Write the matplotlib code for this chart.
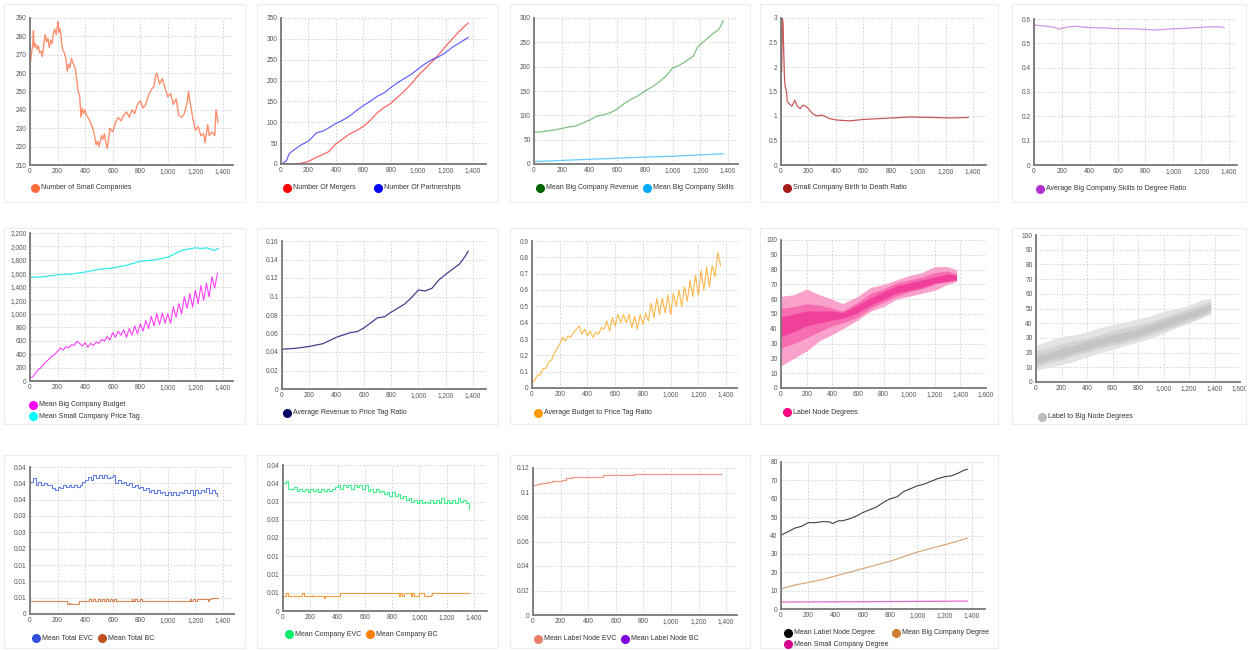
import numpy as np
import matplotlib
matplotlib.use("Agg")
import matplotlib.pyplot as plt
from matplotlib.lines import Line2D
from matplotlib.patches import Rectangle

W, H = 1249, 650
plt.rcParams["font.family"] = ["Liberation Sans", "DejaVu Sans"]

## Data
# Number of Small Companies
small_x = [0, 10, 20, 25, 30, 40, 50, 60, 70, 80, 90, 100, 110, 120, 130, 140, 150, 160, 170, 180,
           190, 200, 205, 210, 220, 230, 240, 250, 260, 270, 280, 290, 300, 310, 320, 330, 340, 350, 360, 370,
           380, 390, 400, 410, 420, 440, 460, 480, 490, 500, 520, 530, 540, 550, 560, 570, 580, 600, 620, 640,
           660, 680, 700, 720, 740, 760, 780, 800, 820, 840, 860, 880, 900, 910, 920, 940, 960, 980, 1000, 1020,
           1040, 1060, 1080, 1100, 1120, 1140, 1150, 1160, 1180, 1200, 1220, 1240, 1260, 1270, 1290, 1300, 1320, 1340, 1350, 1365]
small_y = [264, 270, 276, 283, 274, 276, 273, 275, 271, 272, 269, 276, 281, 277, 279, 274, 278, 276, 282, 284,
           281, 286, 288, 282, 284, 276, 272, 271, 268, 261, 265, 263, 268, 266, 264, 262, 256, 250, 248, 236,
           241, 238, 240, 237, 236, 233, 229, 221, 223, 220, 226, 224, 227, 222, 219, 224, 230, 228, 233, 236,
           234, 237, 239, 236, 240, 238, 243, 245, 241, 243, 248, 251, 253, 258, 260, 254, 257, 252, 247, 249,
           243, 246, 237, 236, 238, 244, 250, 245, 236, 229, 231, 226, 227, 222, 232, 226, 228, 226, 240, 233]

# Mergers / partnerships
mergers_x = [0, 100, 150, 200, 250, 300, 350, 400, 450, 500, 550, 600, 650, 700, 750, 800, 850, 900, 950, 1000,
             1050, 1100, 1150, 1200, 1250, 1300, 1365]
mergers_y = [0, 0, 2, 6, 15, 22, 30, 48, 60, 72, 80, 90, 104, 122, 135, 145, 160, 175, 192, 212,
             228, 245, 262, 282, 300, 318, 338]
partner_x = [0, 20, 40, 60, 100, 130, 160, 200, 230, 260, 300, 350, 400, 450, 500, 550, 600, 650, 700, 750,
             800, 850, 900, 950, 1000, 1050, 1100, 1150, 1200, 1250, 1300, 1365]
partner_y = [0, 3, 8, 25, 35, 42, 48, 55, 65, 75, 78, 87, 97, 105, 115, 128, 140, 150, 162, 170,
             183, 195, 205, 215, 228, 240, 250, 257, 267, 280, 290, 303]

# Big company revenue / skills
revenue_x = [0, 50, 100, 150, 200, 250, 300, 350, 400, 450, 500, 550, 600, 650, 700, 750, 800, 850, 900, 950,
             1000, 1050, 1100, 1150, 1180, 1200, 1250, 1300, 1330, 1350, 1365]
revenue_y = [65, 66, 68, 70, 73, 76, 78, 84, 90, 98, 101, 105, 113, 124, 133, 140, 150, 158, 168, 180,
             197, 203, 212, 222, 240, 246, 258, 270, 275, 285, 295]
skills_x = [0, 300, 700, 1000, 1365]
skills_y = [5, 8.5, 13, 16, 21]

# Small company birth to death ratio
ratio_x = [5, 10, 15, 20, 25, 30, 40, 45, 60, 80, 100, 120, 140, 160, 180, 200, 230, 260, 300, 350,
           400, 500, 600, 800, 950, 1100, 1250, 1365]
ratio_y = [1.9, 3.0, 2.9, 2.3, 1.8, 1.6, 1.5, 1.3, 1.25, 1.2, 1.32, 1.2, 1.15, 1.22, 1.2, 1.15, 1.05, 1.0, 1.02, 0.95,
           0.92, 0.9, 0.93, 0.96, 0.98, 0.97, 0.96, 0.97]

# Average big company skills to degree ratio
skdeg_x = [0, 3, 10, 50, 100, 150, 180, 200, 250, 300, 350, 400, 500, 600, 700, 800, 850, 900, 1000, 1100,
           1200, 1300, 1365]
skdeg_y = [0, 0.58, 0.575, 0.572, 0.57, 0.565, 0.558, 0.562, 0.568, 0.57, 0.567, 0.565, 0.563, 0.56, 0.56, 0.557,
           0.555, 0.556, 0.56, 0.562, 0.566, 0.568, 0.566]

# sampling grid (every 20 steps) used for the jagged series below
grid_x = list(range(0, 1361, 20))

budget_y = [50, 60, 120, 170, 200, 250, 290, 330, 370, 400,
            440, 490, 460, 510, 490, 540, 530, 590, 560, 520,
            570, 500, 560, 530, 580, 560, 620, 590, 660, 610,
            720, 650, 740, 680, 760, 650, 780, 680, 820, 700,
            850, 740, 900, 780, 960, 820, 1000, 840, 1010, 860,
            1000, 860, 1100, 950, 1150, 1000, 1250, 1080, 1300, 1100,
            1350, 1150, 1420, 1200, 1450, 1250, 1550, 1380, 1600]
pricetag_x = [0, 100, 200, 300, 400, 500, 600, 700, 800, 900, 1000, 1100, 1200, 1250, 1280, 1340, 1365]
pricetag_y = [1540, 1550, 1580, 1590, 1620, 1660, 1680, 1720, 1780, 1800, 1840, 1940, 1980, 1970, 1980, 1940, 1970]

# Average revenue to price tag ratio
revtag_x = [0, 2, 100, 200, 300, 400, 500, 550, 600, 700, 750, 800, 900, 950, 1000, 1050, 1100, 1150, 1200, 1300,
            1340, 1365]
revtag_y = [0, 0.043, 0.044, 0.046, 0.049, 0.056, 0.061, 0.062, 0.066, 0.077, 0.078, 0.083, 0.092, 0.099, 0.107,
            0.106, 0.109, 0.118, 0.124, 0.135, 0.143, 0.149]

# Average budget to price tag ratio
budtag_y = [0.03, 0.05, 0.08, 0.08, 0.12, 0.12, 0.16, 0.17, 0.21, 0.24,
            0.27, 0.31, 0.29, 0.32, 0.31, 0.34, 0.36, 0.38, 0.33, 0.36,
            0.32, 0.35, 0.31, 0.34, 0.33, 0.37, 0.36, 0.41, 0.35, 0.43,
            0.38, 0.45, 0.40, 0.45, 0.40, 0.45, 0.37, 0.44, 0.36, 0.45,
            0.39, 0.46, 0.41, 0.52, 0.43, 0.55, 0.45, 0.55, 0.46, 0.57,
            0.45, 0.58, 0.50, 0.60, 0.50, 0.62, 0.53, 0.66, 0.56, 0.69,
            0.57, 0.72, 0.60, 0.74, 0.62, 0.75, 0.68, 0.83, 0.75]

# Label node degrees (fan bands)
band_x = [0, 100, 200, 300, 400, 480, 600, 700, 800, 900, 1000, 1100, 1200, 1300, 1370]
lnd_outer_lo = [15, 20, 25, 32, 36, 40, 46, 52, 55, 60, 62, 64, 66, 70, 72]
lnd_outer_hi = [62, 63, 67, 63, 60, 57, 62, 68, 70, 73, 76, 78, 82, 82, 80]
lnd_mid_lo = [27, 30, 34, 38, 42, 44, 48, 54, 58, 62, 65, 67, 70, 72, 73]
lnd_mid_hi = [54, 55, 57, 56, 54, 52, 58, 64, 67, 71, 73, 75, 78, 79, 77]
lnd_in_lo = [35, 38, 42, 44, 46, 47, 51, 56, 60, 64, 66, 68, 71, 72, 73]
lnd_in_hi = [48, 50, 52, 52, 52, 51, 56, 61, 65, 69, 71, 73, 75, 77, 76]

# Label to big node degrees (fan bands)
band2_x = [0, 100, 200, 300, 400, 500, 600, 700, 800, 900, 1000, 1100, 1200, 1300, 1370]
lbd_outer_lo = [8, 10, 12, 14, 17, 20, 22, 25, 27, 30, 33, 37, 40, 44, 46]
lbd_outer_hi = [25, 28, 31, 32, 34, 37, 39, 41, 43, 45, 48, 50, 52, 56, 57]
lbd_mid_lo = [10, 13, 15, 18, 20, 23, 25, 27, 29, 32, 35, 38, 41, 44, 47]
lbd_mid_hi = [21, 23, 26, 28, 30, 32, 35, 37, 39, 41, 44, 47, 50, 53, 55]
lbd_in_lo = [12, 15, 17, 20, 22, 25, 27, 29, 31, 34, 37, 40, 43, 46, 49]
lbd_in_hi = [18, 20, 23, 25, 28, 30, 32, 34, 36, 39, 42, 45, 48, 51, 53]

# Mean total EVC / BC (in thousandths)
total_evc_e3 = [40.5, 41.5, 39.5, 40.5, 39.5, 40, 39.5, 39.5, 38.5, 38,
                39, 38.5, 39.5, 39, 39.5, 39, 39.5, 39, 39.5, 40.5,
                41, 42, 41, 42.5, 41.5, 42.5, 41.5, 42.5, 41.5, 42,
                42.5, 40, 41, 40, 40.5, 39.5, 40, 39, 39.5, 38.5,
                39, 38, 38.5, 37.5, 38, 37, 38, 37, 37.5, 36.5,
                37.5, 36.5, 37.5, 36.5, 37.5, 37, 38, 37, 38, 36.5,
                38, 37, 38, 37.5, 38.5, 37, 38, 37, 36]
total_bc_x = [0, 265, 280, 290, 355, 430, 445, 460, 475, 490, 505, 520, 535, 550, 565, 580, 595, 610, 625, 640,
              740, 750, 760, 775, 800, 815, 1160, 1170, 1185, 1200, 1215, 1230, 1290, 1300, 1310, 1365]
total_bc_e3 = [4, 3, 3.5, 3, 4, 4.5, 4, 4.5, 4, 4.5, 4, 4.5, 4, 4.5, 4, 4.5, 4, 4.5, 4, 4,
               4.5, 4, 4.5, 4, 4.5, 4, 4.5, 4, 4.5, 4, 4.5, 4.5, 4, 4.5, 5, 5]

# Mean company EVC / BC (in thousandths)
comp_evc_e3 = [35, 35.5, 33.5, 33.5, 34, 33, 33.5, 33, 33.5, 32.5,
               33.5, 33, 33.5, 32.5, 33.5, 33, 33.5, 33, 33.5, 34,
               34.5, 33.5, 34.5, 34, 34.5, 33.5, 34.5, 34, 34.5, 33.5,
               34.5, 33, 33.5, 32.5, 33.5, 32.5, 33, 32, 32.5, 31.5,
               32.5, 31.5, 32, 31, 31.5, 30.5, 31, 30, 30.5, 29.5,
               30.5, 29.5, 30, 29.5, 30.5, 29.5, 30.5, 29.5, 31, 29.5,
               30.5, 29.5, 30.5, 29.5, 31, 30, 30.5, 29.5, 28]
comp_bc_x = [0, 20, 35, 140, 155, 210, 215, 300, 310, 420, 850, 860, 875, 885, 935, 945, 960, 1000, 1010, 1030,
             1085, 1095, 1110, 1365]
comp_bc_e3 = [4, 5, 4, 5, 4, 4.5, 4, 3.5, 4, 5, 4, 5, 4, 5, 4, 5, 4, 5, 5, 4,
              4.5, 5, 5, 5]

# Mean label node EVC (in thousandths)
label_evc_x = [0, 30, 60, 100, 140, 180, 210, 240, 280, 500, 510, 720, 730, 1365]
label_evc_e3 = [106, 107, 108, 108.5, 109, 109.5, 110.5, 111.5, 113, 113, 114, 114, 115, 115]

# Mean degrees
lab_deg_x = [0, 20, 50, 100, 150, 200, 250, 300, 350, 380, 420, 450, 500, 550, 600, 650, 700, 750, 800, 850,
             900, 950, 1000, 1050, 1100, 1150, 1200, 1250, 1300, 1340, 1365]
lab_deg_y = [40, 41, 42, 44, 45, 47, 47, 47.5, 47.5, 46.5, 48, 48, 49, 50.5, 52.5, 54, 55.5, 58, 60, 61,
             64, 65.5, 67, 68, 69.5, 71, 72, 72.5, 74, 75.5, 76]
big_deg_x = [0, 100, 200, 300, 400, 500, 600, 700, 800, 900, 1000, 1100, 1200, 1300, 1365]
big_deg_y = [11, 13, 14.5, 16, 18, 20, 22, 24, 26, 28.5, 31, 33, 35, 37, 38.5]
small_deg_x = [0, 700, 1365]
small_deg_y = [3.8, 4.0, 4.3]

x_ticks = [0, 200, 400, 600, 800, 1000, 1200, 1400]
x_ticks16 = x_ticks + [1600]


def fmt(v):
    if abs(v - round(v)) < 1e-9:
        return f"{int(round(v)):,}"
    return f"{v:.2f}".rstrip("0")


fig = plt.figure(figsize=(W / 100, H / 100), dpi=100)
fig.patch.set_facecolor("white")

# faint card borders
cols = [(4, 245), (257, 498), (510, 750), (760, 998), (1012, 1246)]
rows = [(4, 202), (228, 424), (455, 648)]
for r, (ya, yb) in enumerate(rows):
    for c, (xa, xb) in enumerate(cols):
        if r == 2 and c == 4:
            continue
        fig.add_artist(Rectangle((xa / W, 1 - yb / H), (xb - xa) / W, (yb - ya) / H,
                                 transform=fig.transFigure, fill=False, ec="#ededed", lw=0.8))


def panel(x0, x1, y0, y1, xmax, yticks, ylabels=None, xt=x_ticks):
    ax = fig.add_axes([x0 / W, 1 - y1 / H, (x1 - x0) / W, (y1 - y0) / H])
    ax.set_xlim(0, xmax)
    ax.set_ylim(yticks[0], yticks[-1])
    ax.set_xticks(xt)
    ax.set_xticklabels([f"{t:,}" for t in xt])
    ax.set_yticks(yticks)
    ax.set_yticklabels(ylabels if ylabels else [fmt(t) for t in yticks])
    for s in ["top", "right"]:
        ax.spines[s].set_visible(False)
    for s in ["left", "bottom"]:
        ax.spines[s].set_color("#777777")
        ax.spines[s].set_linewidth(1.3)
    ax.tick_params(length=0, labelsize=4.7, colors="#555555", pad=2.5)
    ax.grid(True, ls=(0, (2, 2)), color="#cfcfcf", lw=0.6)
    ax.set_axisbelow(True)
    ax.patch.set_alpha(0)
    return ax


def legend_item(x, y, color, text):
    fig.add_artist(Line2D([x / W], [1 - y / H], marker="o", ms=5.5, color=color, ls="",
                          transform=fig.transFigure))
    fig.text((x + 6) / W, 1 - y / H, text, fontsize=5.0, color="#333333", va="center")


def steps(lo, hi, n):
    return [lo + (hi - lo) * i / n for i in range(n + 1)]


# ---- Row 1 ----
ax = panel(30, 233, 18, 165, 1473, steps(210, 290, 8))
ax.plot(small_x, small_y, color="#ff6a3d", lw=1.0, alpha=0.75)
legend_item(35, 188, "#ff6a3d", "Number of Small Companies")

ax = panel(281, 486, 18, 164, 1495, steps(0, 350, 7))
ax.plot(mergers_x, mergers_y, color="#ff0000", lw=0.9, alpha=0.6)
ax.plot(partner_x, partner_y, color="#0000ff", lw=0.9, alpha=0.6)
legend_item(287, 188, "#ff0000", "Number Of Mergers")
legend_item(378, 188, "#0000ff", "Number Of Partnershpis")

ax = panel(534, 738, 18, 164, 1472, steps(0, 300, 6))
ax.plot(revenue_x, revenue_y, color="#1a8c1a", lw=0.9, alpha=0.55)
ax.plot(skills_x, skills_y, color="#00aaff", lw=0.9, alpha=0.6)
legend_item(540, 188, "#006400", "Mean Big Company Revenue")
legend_item(647, 188, "#00aaff", "Mean Big Company Skills")

ax = panel(781, 986, 18, 165, 1495, steps(0, 3, 6))
ax.plot(ratio_x, ratio_y, color="#b22222", lw=0.9, alpha=0.75)
legend_item(787, 188, "#a51c1c", "Small Company Birth to Death Ratio")

ax = panel(1034, 1237, 19, 165, 1457, steps(0, 0.6, 6))
ax.plot(skdeg_x, skdeg_y, color="#b040d0", lw=0.9, alpha=0.55)
legend_item(1040, 189, "#b030d0", "Average Big Company Skills to Degree Ratio")

# ---- Row 2 ----
ax = panel(30, 233, 233, 381, 1473, steps(0, 2200, 11))
ax.plot(grid_x, budget_y, color="#ff00ff", lw=0.8, alpha=0.75)
ax.plot(pricetag_x, pricetag_y, color="#00e5e5", lw=0.9, alpha=0.8)
legend_item(33, 405, "#ff00ff", "Mean Big Company Budget")
legend_item(33, 416, "#00ffff", "Mean Small Company Price Tag")

ax = panel(282, 486, 241, 389, 1495, steps(0, 0.16, 8))
ax.plot(revtag_x, revtag_y, color="#000066", lw=0.9, alpha=0.75)
legend_item(287, 413, "#000066", "Average Revenue to Price Tag Ratio")

ax = panel(532, 737, 241, 388, 1479, steps(0, 0.9, 9))
ax.plot(grid_x, budtag_y, color="#ff9900", lw=0.8, alpha=0.7)
legend_item(538, 413, "#ff9900", "Average Budget to Price Tag Ratio")

ax = panel(781, 986, 240, 388, 1600, steps(0, 100, 10), xt=x_ticks16)
ax.fill_between(band_x, lnd_outer_lo, lnd_outer_hi, color="#f9a3cc", lw=0)
ax.fill_between(band_x, lnd_mid_lo, lnd_mid_hi, color="#f66db2", lw=0)
ax.fill_between(band_x, lnd_in_lo, lnd_in_hi, color="#f0409a", lw=0)
legend_item(787, 412, "#ff0080", "Label Node Degrees")

ax = panel(1036, 1240, 235, 382, 1600, steps(0, 100, 10), xt=x_ticks16)
ax.fill_between(band2_x, lbd_outer_lo, lbd_outer_hi, color="#e3e3e3", lw=0)
ax.fill_between(band2_x, lbd_mid_lo, lbd_mid_hi, color="#d3d3d3", lw=0)
ax.fill_between(band2_x, lbd_in_lo, lbd_in_hi, color="#c4c4c4", lw=0)
legend_item(1042, 417, "#bbbbbb", "Label to Big Node Degrees")

# ---- Row 3 ----
lab11 = ["0", "0.01", "0.01", "0.01", "0.02", "0.03", "0.03", "0.04", "0.04", "0.04"]
ax = panel(30, 234, 467, 614, 1480, steps(0, 0.045, 9), lab11)
ax.plot(grid_x, np.array(total_evc_e3) / 1000, color="#3355dd", lw=0.8, alpha=0.75, drawstyle="steps-post")
ax.plot(total_bc_x, np.array(total_bc_e3) / 1000, color="#d0601e", lw=0.8, alpha=0.75, drawstyle="steps-post")
legend_item(36, 638, "#2f4fd8", "Mean Total EVC")
legend_item(102, 638, "#c0501e", "Mean Total BC")

lab12 = ["0", "0.01", "0.01", "0.01", "0.02", "0.03", "0.03", "0.04", "0.04"]
ax = panel(283, 487, 465, 611, 1495, steps(0, 0.04, 8), lab12)
ax.plot(grid_x, np.array(comp_evc_e3) / 1000, color="#00ee66", lw=0.8, alpha=0.75, drawstyle="steps-post")
ax.plot(comp_bc_x, np.array(comp_bc_e3) / 1000, color="#ff7f00", lw=0.8, alpha=0.75, drawstyle="steps-post")
legend_item(289, 634, "#00ee66", "Mean Company EVC")
legend_item(370, 634, "#ff7f00", "Mean Company BC")

ax = panel(533, 737, 468, 615, 1479, steps(0, 0.12, 6))
ax.plot(label_evc_x, np.array(label_evc_e3) / 1000, color="#e9806a", lw=0.9, alpha=0.8, drawstyle="steps-post")
legend_item(538, 639, "#e9806a", "Mean Label Node EVC")
legend_item(625, 639, "#7b00dd", "Mean Label Node BC")

ax = panel(781, 985, 462, 609, 1495, steps(0, 80, 8))
ax.plot(lab_deg_x, lab_deg_y, color="#111111", lw=0.8, alpha=0.8)
ax.plot(big_deg_x, big_deg_y, color="#d2915a", lw=0.9, alpha=0.8)
ax.plot(small_deg_x, small_deg_y, color="#e040c0", lw=0.9, alpha=0.8)
legend_item(788, 633, "#000000", "Mean Label Node Degree")
legend_item(896, 633, "#cd7f32", "Mean Big Company Degree")
legend_item(788, 644, "#d4008a", "Mean Small Company Degree")

fig.savefig("out.png", dpi=100)
